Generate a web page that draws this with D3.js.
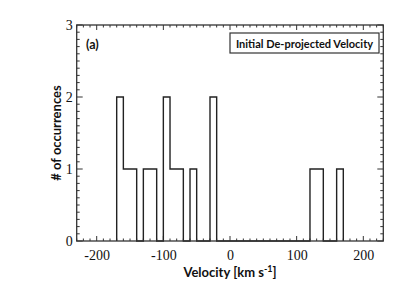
<!DOCTYPE html>
<html>
<head>
<meta charset="utf-8">
<script src="https://cdn.jsdelivr.net/npm/d3@7"></script>
<style>
  html, body { margin: 0; padding: 0; background: #fff; }
  svg { display: block; }
</style>
</head>
<body>
<script>
// ---- data ----
const binStarts = [-170,-160,-150,-140,-130,-120,-110,-100,-90,-80,-70,-60,-50,-40,-30,-20,-10,0,10,20,30,40,50,60,70,80,90,100,110,120,130,140,150,160];
const counts    = [   2,   1,   1,   0,   1,   1,   0,   2,  1,  1,  0,  1,  0,  0,  2,  0,  0,0, 0, 0, 0, 0, 0, 0, 0, 0, 0,  0,  0,  1,  1,  0,  0,  1];
const binWidth = 10;
const xTicks = [-200, -100, 0, 100, 200];
const yTicks = [0, 1, 2, 3];
const xTitle = "Velocity [km s";
const yTitle = "# of occurrences";
const legendText = "Initial De-projected Velocity";
const panelLabel = "(a)";

const W = 407, H = 291;
const svg = d3.select("body").append("svg").attr("width", W).attr("height", H);

const x = d3.scaleLinear().domain([-230, 230]).range([76.7, 383.3]);
const y = d3.scaleLinear().domain([0, 3]).range([241, 25]);

const frameColor = "#333";
const [x0, x1] = x.range();
const [yb, yt] = y.range();

// minor/major ticks
const g = svg.append("g");
const xMinor = d3.range(-230, 231, 10);
const yMinor = d3.range(0, 3.0001, 0.1);
function isMajorX(v){ return Math.abs(v % 100) < 1e-6; }
function isMajorY(v){ return Math.abs(v - Math.round(v)) < 1e-6; }
xMinor.forEach(v => {
  const L = isMajorX(v) ? 5 : 2.5;
  const px = x(v);
  g.append("line").attr("x1", px).attr("x2", px).attr("y1", yb).attr("y2", yb - L)
    .attr("stroke", frameColor).attr("stroke-width", 1);
  g.append("line").attr("x1", px).attr("x2", px).attr("y1", yt).attr("y2", yt + L)
    .attr("stroke", frameColor).attr("stroke-width", 1);
});
yMinor.forEach(v => {
  const L = isMajorY(v) ? 6 : 3;
  const py = y(v);
  g.append("line").attr("x1", x0).attr("x2", x0 + L).attr("y1", py).attr("y2", py)
    .attr("stroke", frameColor).attr("stroke-width", 1);
  g.append("line").attr("x1", x1).attr("x2", x1 - L).attr("y1", py).attr("y2", py)
    .attr("stroke", frameColor).attr("stroke-width", 1);
});

// histogram outline
const pts = [[binStarts[0], 0]];
binStarts.forEach((b, i) => pts.push([b, counts[i]]));
pts.push([binStarts[binStarts.length - 1] + binWidth, 0]);
const line = d3.line().x(d => x(d[0])).y(d => y(d[1])).curve(d3.curveStepAfter);
svg.append("path").attr("d", line(pts)).attr("fill", "none")
  .attr("stroke", "#222").attr("stroke-width", 1.4);

// frame
svg.append("rect").attr("x", x0).attr("y", yt).attr("width", x1 - x0).attr("height", yb - yt)
  .attr("fill", "none").attr("stroke", frameColor).attr("stroke-width", 1.3);

// axes tick labels
const xAxis = d3.axisBottom(x).tickValues(xTicks).tickSize(0).tickPadding(9);
const ax = svg.append("g").attr("transform", `translate(0,${yb})`).call(xAxis);
ax.select(".domain").remove();
ax.selectAll("text").attr("font-family", "Liberation Serif, Times New Roman, serif")
  .attr("font-size", 14).attr("fill", "#111").text(d => d < 0 ? "-" + Math.abs(d) : String(d));

const yAxis = d3.axisLeft(y).tickValues(yTicks).tickFormat(d3.format("d")).tickSize(0).tickPadding(4);
const ay = svg.append("g").attr("transform", `translate(${x0},0)`).call(yAxis);
ay.select(".domain").remove();
ay.selectAll("text").attr("font-family", "Liberation Serif, Times New Roman, serif")
  .attr("font-size", 14).attr("fill", "#111");

// titles
const sansBold = "Lato, 'Open Sans', sans-serif";
const xt = svg.append("text").attr("x", x(0)).attr("y", 277).attr("text-anchor", "middle")
  .attr("font-family", sansBold).attr("font-weight", "bold").attr("font-size", 13).attr("fill", "#111");
xt.append("tspan").text(xTitle);
xt.append("tspan").attr("dy", -5).attr("font-size", 9).text("-1");
xt.append("tspan").attr("dy", 5).text("]");

svg.append("text").attr("transform", `translate(61,${y(1.5)}) rotate(-90)`)
  .attr("text-anchor", "middle").attr("font-family", sansBold).attr("font-weight", "bold")
  .attr("font-size", 13).attr("fill", "#111").text(yTitle);

// panel label
svg.append("text").attr("x", 86).attr("y", 49).attr("font-family", sansBold)
  .attr("font-weight", "bold").attr("font-size", 12.5).attr("fill", "#111").text(panelLabel);

// legend box
svg.append("rect").attr("x", 230).attr("y", 33).attr("width", 149).attr("height", 20)
  .attr("fill", "#fff").attr("stroke", frameColor).attr("stroke-width", 1.2);
svg.append("text").attr("x", 304.5).attr("y", 47.5).attr("text-anchor", "middle")
  .attr("font-family", sansBold).attr("font-weight", "bold").attr("font-size", 11)
  .attr("fill", "#111").text(legendText);
</script>
</body>
</html>
